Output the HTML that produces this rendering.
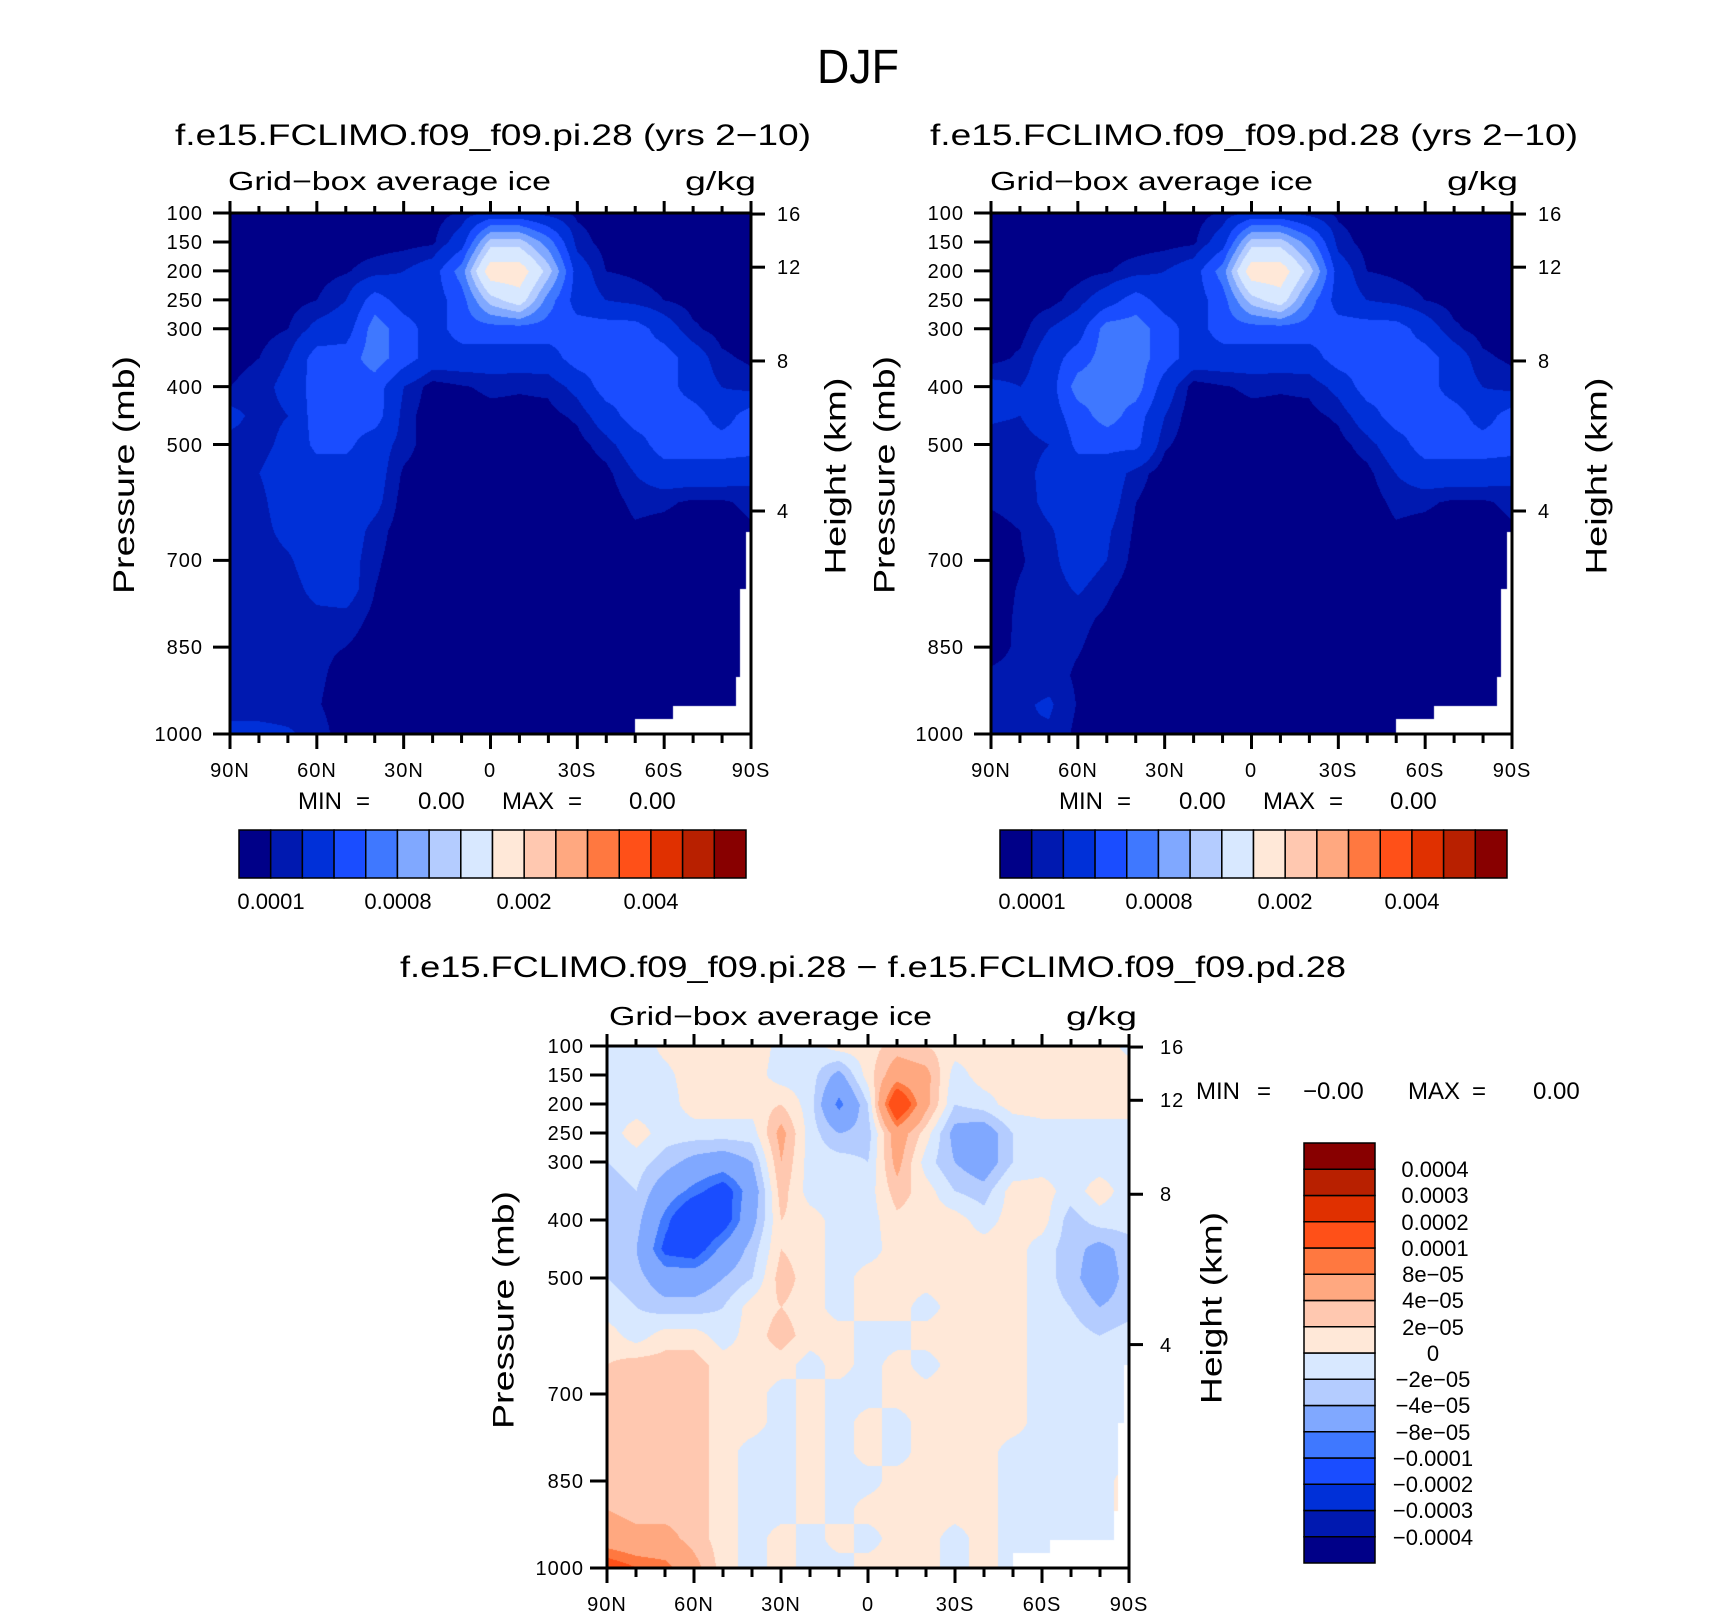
<!DOCTYPE html>
<html><head><meta charset="utf-8">
<style>
html,body{margin:0;padding:0;background:#fff;}
#wrap{position:relative;width:1710px;height:1616px;overflow:hidden;background:#fff;}
canvas{position:absolute;}
svg{position:absolute;left:0;top:0;}
text{font-family:"Liberation Sans",sans-serif;fill:#000;}
.tk{font-size:20px;letter-spacing:1px;}
.mm{font-size:24px;}
.cb{font-size:22px;}
</style></head>
<body>
<div id="wrap">
<canvas id="c1" width="521" height="521" style="left:230px;top:213px"></canvas>
<canvas id="c2" width="521" height="521" style="left:991px;top:213px"></canvas>
<canvas id="c3" width="522" height="522" style="left:607px;top:1046px"></canvas>
<svg id="ov" width="1710" height="1616" viewBox="0 0 1710 1616">
<g id="axes"></g>
<g id="bars"></g>

<text x="858" y="83" font-size="48" text-anchor="middle" textLength="82" lengthAdjust="spacingAndGlyphs">DJF</text>

<text x="175" y="145" font-size="30" textLength="636" lengthAdjust="spacingAndGlyphs">f.e15.FCLIMO.f09_f09.pi.28 (yrs 2−10)</text>
<text x="930" y="145" font-size="30" textLength="648" lengthAdjust="spacingAndGlyphs">f.e15.FCLIMO.f09_f09.pd.28 (yrs 2−10)</text>
<text x="400" y="977" font-size="30" textLength="946" lengthAdjust="spacingAndGlyphs">f.e15.FCLIMO.f09_f09.pi.28 − f.e15.FCLIMO.f09_f09.pd.28</text>

<text x="228" y="190" font-size="26" textLength="323" lengthAdjust="spacingAndGlyphs">Grid−box average ice</text>
<text x="685" y="190" font-size="26" textLength="71" lengthAdjust="spacingAndGlyphs">g/kg</text>
<text x="990" y="190" font-size="26" textLength="323" lengthAdjust="spacingAndGlyphs">Grid−box average ice</text>
<text x="1447" y="190" font-size="26" textLength="71" lengthAdjust="spacingAndGlyphs">g/kg</text>
<text x="609" y="1025" font-size="26" textLength="323" lengthAdjust="spacingAndGlyphs">Grid−box average ice</text>
<text x="1066" y="1025" font-size="26" textLength="71" lengthAdjust="spacingAndGlyphs">g/kg</text>

<text transform="translate(124.5,475) rotate(-90)" font-size="30" text-anchor="middle" dominant-baseline="central" textLength="238" lengthAdjust="spacingAndGlyphs">Pressure (mb)</text>
<text transform="translate(836,476) rotate(-90)" font-size="30" text-anchor="middle" dominant-baseline="central" textLength="197" lengthAdjust="spacingAndGlyphs">Height (km)</text>
<text transform="translate(885,475) rotate(-90)" font-size="30" text-anchor="middle" dominant-baseline="central" textLength="238" lengthAdjust="spacingAndGlyphs">Pressure (mb)</text>
<text transform="translate(1597,476) rotate(-90)" font-size="30" text-anchor="middle" dominant-baseline="central" textLength="197" lengthAdjust="spacingAndGlyphs">Height (km)</text>
<text transform="translate(504,1310) rotate(-90)" font-size="30" text-anchor="middle" dominant-baseline="central" textLength="238" lengthAdjust="spacingAndGlyphs">Pressure (mb)</text>
<text transform="translate(1212,1308) rotate(-90)" font-size="30" text-anchor="middle" dominant-baseline="central" textLength="192" lengthAdjust="spacingAndGlyphs">Height (km)</text>

<g class="tk" text-anchor="end">
<text x="203" y="220">100</text><text x="203" y="249">150</text><text x="203" y="278">200</text><text x="203" y="307">250</text><text x="203" y="336">300</text><text x="203" y="394">400</text><text x="203" y="452">500</text><text x="203" y="567">700</text><text x="203" y="654">850</text><text x="203" y="741">1000</text>
</g>
<g class="tk" text-anchor="end">
<text x="964" y="220">100</text><text x="964" y="249">150</text><text x="964" y="278">200</text><text x="964" y="307">250</text><text x="964" y="336">300</text><text x="964" y="394">400</text><text x="964" y="452">500</text><text x="964" y="567">700</text><text x="964" y="654">850</text><text x="964" y="741">1000</text>
</g>
<g class="tk" text-anchor="end">
<text x="584" y="1053">100</text><text x="584" y="1082">150</text><text x="584" y="1111">200</text><text x="584" y="1140">250</text><text x="584" y="1169">300</text><text x="584" y="1227">400</text><text x="584" y="1285">500</text><text x="584" y="1401">700</text><text x="584" y="1488">850</text><text x="584" y="1575">1000</text>
</g>
<g class="tk">
<text x="777" y="221">16</text><text x="777" y="274">12</text><text x="777" y="368">8</text><text x="777" y="518">4</text>
</g>
<g class="tk">
<text x="1538" y="221">16</text><text x="1538" y="274">12</text><text x="1538" y="368">8</text><text x="1538" y="518">4</text>
</g>
<g class="tk">
<text x="1160" y="1054">16</text><text x="1160" y="1107">12</text><text x="1160" y="1201">8</text><text x="1160" y="1352">4</text>
</g>
<g class="tk" text-anchor="middle">
<text x="230" y="777">90N</text><text x="317" y="777">60N</text><text x="404" y="777">30N</text><text x="490" y="777">0</text><text x="577" y="777">30S</text><text x="664" y="777">60S</text><text x="751" y="777">90S</text>
</g>
<g class="tk" text-anchor="middle">
<text x="991" y="777">90N</text><text x="1078" y="777">60N</text><text x="1165" y="777">30N</text><text x="1251" y="777">0</text><text x="1338" y="777">30S</text><text x="1425" y="777">60S</text><text x="1512" y="777">90S</text>
</g>
<g class="tk" text-anchor="middle">
<text x="607" y="1611">90N</text><text x="694" y="1611">60N</text><text x="781" y="1611">30N</text><text x="868" y="1611">0</text><text x="955" y="1611">30S</text><text x="1042" y="1611">60S</text><text x="1129" y="1611">90S</text>
</g>

<g class="mm">
<text x="298" y="809">MIN</text><text x="356" y="809">=</text><text x="418" y="809">0.00</text><text x="502" y="809">MAX</text><text x="568" y="809">=</text><text x="629" y="809">0.00</text>
</g>
<g class="mm">
<text x="1059" y="809">MIN</text><text x="1117" y="809">=</text><text x="1179" y="809">0.00</text><text x="1263" y="809">MAX</text><text x="1329" y="809">=</text><text x="1390" y="809">0.00</text>
</g>
<g class="mm">
<text x="1196" y="1099">MIN</text><text x="1257" y="1099">=</text><text x="1303" y="1099">−0.00</text><text x="1408" y="1099">MAX</text><text x="1472" y="1099">=</text><text x="1533" y="1099">0.00</text>
</g>

<g class="cb" text-anchor="middle">
<text x="271" y="909">0.0001</text><text x="398" y="909">0.0008</text><text x="524" y="909">0.002</text><text x="651" y="909">0.004</text>
</g>
<g class="cb" text-anchor="middle">
<text x="1032" y="909">0.0001</text><text x="1159" y="909">0.0008</text><text x="1285" y="909">0.002</text><text x="1412" y="909">0.004</text>
</g>
<g class="cb" text-anchor="middle">
<text x="1435" y="1177">0.0004</text>
<text x="1435" y="1203">0.0003</text>
<text x="1435" y="1230">0.0002</text>
<text x="1435" y="1256">0.0001</text>
<text x="1433" y="1282">8e−05</text>
<text x="1433" y="1308">4e−05</text>
<text x="1433" y="1335">2e−05</text>
<text x="1433" y="1361">0</text>
<text x="1433" y="1387">−2e−05</text>
<text x="1433" y="1413">−4e−05</text>
<text x="1433" y="1440">−8e−05</text>
<text x="1433" y="1466">−0.0001</text>
<text x="1433" y="1492">−0.0002</text>
<text x="1433" y="1518">−0.0003</text>
<text x="1433" y="1545">−0.0004</text>
</g>
</svg>
</div>
<script>
const palette = ["#000088","#0019b0","#0030d8","#1a4dff","#3f78ff","#80a8ff","#b4ccff","#d8e8ff","#ffe8d8","#ffc8b0","#ffa880","#ff7840","#ff5018","#e03000","#b82000","#880000"];
// absolute-field levels (units 1e-4 kg/kg)
const absLevels = [1,2,4,6,8,10,12,15,20,25,30,35,40,45,50];
// difference-field levels (units 1e-5 kg/kg)
const diffLevels = [-40,-30,-20,-10,-8,-4,-2,0,2,4,8,10,20,30,40];
const lats = [90,80,70,60,50,40,30,20,10,0,-10,-20,-30,-40,-50,-60,-70,-80,-90];
const pressures = [100,150,200,250,300,350,400,450,500,550,600,650,700,750,800,850,900,950,1000];
const missingLat = [-50, -63, -85, -86.5, -88.5];
const missingP = [975, 952, 902, 750, 651];

const iceVals_pi = [
[0.5,0.5,0.5,0.5,0.5,0.5,0.5,0.5,1.2,2.5,2.5,1.5,0.8,0.5,0.5,0.5,0.5,0.5,0.5],
[0.5,0.5,0.5,0.5,0.5,0.5,0.6,0.8,3,11,11,7,1.5,0.6,0.5,0.5,0.5,0.5,0.5],
[0.5,0.5,0.5,0.6,0.9,1.5,2,3,7,17,17,11,3,1,0.8,0.6,0.5,0.5,0.5],
[0.5,0.5,0.6,1,2,5,3,3,5,11,13.5,7,3,2,1.5,1,0.6,0.5,0.5],
[0.5,0.6,1,2.5,3,7,5,3,5,5,5,5,5,5,5,3,1.2,0.6,0.5],
[0.6,1,2,5,5,7,5,3,3,3,3,3,5,5,5,5,3,1.2,0.8],
[1,1.5,2.5,5,5,5,2,0.5,0.9,1.2,1.1,1.2,2.5,5,5,5,3,2,1.5],
[2.5,1.5,2,5,5,5,1.5,0.3,0.5,0.7,0.7,0.7,1.2,3,5,5,5,3,5],
[1.5,1.5,2.5,4.5,4.5,2.8,1.5,0.3,0.3,0.3,0.3,0.3,0.6,1.5,3,5,5,5,5],
[1.5,2,3,3,3,2.8,0.8,0.3,0.3,0.3,0.3,0.3,0.3,0.7,2,3,3,3,2.5],
[1.5,1.6,3,3,3,2.5,0.5,0.3,0.3,0.3,0.3,0.3,0.3,0.4,1.3,1.2,0.8,0.8,1.3],
[1.5,1.5,2.5,3,3,1.5,0.4,0.3,0.3,0.3,0.3,0.3,0.3,0.3,0.8,0.6,0.4,0.4,0.8],
[1.3,1.3,1.8,3,2.8,1.2,0.4,0.3,0.3,0.3,0.3,0.3,0.3,0.3,0.4,1,0.3,0.3,0.3],
[1.2,1.2,1.4,2.5,2.8,1,0.3,0.3,0.3,0.3,0.3,0.3,0.3,0.3,0.3,1,0.3,0.3,0.3],
[1.2,1.2,1.3,1.6,1.6,0.7,0.3,0.3,0.3,0.3,0.3,0.3,0.3,0.3,0.3,0.3,0.3,0.3,0.3],
[1.3,1.2,1.2,1.2,1,0.4,0.3,0.3,0.3,0.3,0.3,0.3,0.3,0.3,0.3,0.3,0.3,0.3,0.3],
[1.3,1.3,1.2,1.2,0.6,0.3,0.3,0.3,0.3,0.3,0.3,0.3,0.3,0.3,0.3,0.3,0.3,0.3,0.3],
[1.3,1.3,1.3,1.1,0.4,0.3,0.3,0.3,0.3,0.3,0.3,0.3,0.3,0.3,0.3,0.3,0.3,0.3,0.3],
[2.5,2.5,2.2,1.5,0.4,0.3,0.3,0.3,0.3,0.3,0.3,0.3,0.3,0.3,0.3,0.3,0.3,0.3,0.3]
];
const iceVals_pd = [
[0.5,0.5,0.5,0.5,0.5,0.5,0.5,0.5,1.2,2.5,2.5,1.5,0.8,0.5,0.5,0.5,0.5,0.5,0.5],
[0.5,0.5,0.5,0.5,0.5,0.5,0.6,0.8,3,11,11,7,1.5,0.6,0.5,0.5,0.5,0.5,0.5],
[0.5,0.5,0.5,0.6,0.9,1.5,2,3,7,17,17,11,3,1,0.8,0.6,0.5,0.5,0.5],
[0.5,0.5,0.6,1.5,3,5,3,3,5,11,13.5,7,3,2,1.5,1,0.6,0.5,0.5],
[0.5,0.6,2,3,7,7,5,3,5,5,5,5,5,5,5,3,1.2,0.6,0.5],
[0.6,1.2,3,5,7,7,5,3,3,3,3,3,5,5,5,5,3,1.2,0.8],
[2.5,2,3,7,7,7,3,0.5,0.9,1.2,1.1,1.2,2.5,5,5,5,3,2,1.5],
[2.2,2,3,5,7,5,2,0.3,0.5,0.7,0.7,0.7,1.2,3,5,5,5,3,5],
[1.5,1.5,2,4.5,4.5,4.5,1.2,0.3,0.3,0.3,0.3,0.3,0.6,1.5,3,5,5,5,5],
[1.2,1.5,2.5,3,3,1.5,0.4,0.3,0.3,0.3,0.3,0.3,0.3,0.7,2,3,3,3,2.5],
[1.1,1.3,2.5,3,2.8,1,0.3,0.3,0.3,0.3,0.3,0.3,0.3,0.4,1.3,1.2,0.8,0.8,1.3],
[0.7,1,1.8,3,2.2,0.8,0.3,0.3,0.3,0.3,0.3,0.3,0.3,0.3,0.8,0.6,0.4,0.4,0.8],
[0.5,0.9,1.5,3,2,0.6,0.3,0.3,0.3,0.3,0.3,0.3,0.3,0.3,0.4,1,0.3,0.3,0.3],
[0.5,1.1,1.3,2.2,1.2,0.4,0.3,0.3,0.3,0.3,0.3,0.3,0.3,0.3,0.3,1,0.3,0.3,0.3],
[0.5,1.2,1.5,1.3,0.8,0.3,0.3,0.3,0.3,0.3,0.3,0.3,0.3,0.3,0.3,0.3,0.3,0.3,0.3],
[0.6,1.2,1.5,1.1,0.5,0.3,0.3,0.3,0.3,0.3,0.3,0.3,0.3,0.3,0.3,0.3,0.3,0.3,0.3],
[1.2,1.3,1.5,0.8,0.3,0.3,0.3,0.3,0.3,0.3,0.3,0.3,0.3,0.3,0.3,0.3,0.3,0.3,0.3],
[1.5,1.8,2.2,0.9,0.3,0.3,0.3,0.3,0.3,0.3,0.3,0.3,0.3,0.3,0.3,0.3,0.3,0.3,0.3],
[1.5,2,1.8,0.7,0.3,0.3,0.3,0.3,0.3,0.3,0.3,0.3,0.3,0.3,0.3,0.3,0.3,0.3,0.3]
];
const iceDiff = [
[-1,-1,0.5,1,1,1,-0.5,-1,1,1,3,2,1,1,1,1,1,1,-0.5],
[-1,-1,-0.5,1,1,1,-1,-1,-5,1,6,5,-1,1,1,1,1,1,1],
[-1,-1,-1,1,1,1,2,-1,-9,-2,15,5,-2,-1,1,1,1,1,1],
[-1,1,-1,-1,-1,-1,5,-1,-4,-3,6,1,-5,-6,-2,-1,-1,-1,-1],
[-2,-1,-3,-5,-6,-4,4,-1,-1,-2,5,-1,-4,-6,-2,-1,-1,-1,-1],
[-3,-2,-6,-9,-12,-6,3,-1,-1,-1,3,1,-2,-3,1,1,-1,1,-1],
[-3,-3,-9,-15,-12,-5,2,1,-1,-1,1.5,1,1,-1,1,1,-3,-1,-1],
[-2,-4,-11,-12,-7,-3,2,1,-1,-1,1,1,1,1,1,-1,-3,-5,-3],
[-2,-3,-6,-6,-4,-2,3,1,-1,1,1,1,1,1,1,-1,-3,-6,-3],
[-1,-2,-3,-3,-2,1,2,1,-1,1,1,-1,1,1,1,-1,-2,-4,-3],
[1,-1,1,1,-1,1,3,1,1,-1,-1,1,1,1,1,-1,-1,-2,-1],
[2,3,3,3,1,1,1,-1,1,-1,1,-1,1,1,1,-1,-1,-1,-1],
[3,3,3,3,1,1,-1,1,-1,-1,1,1,1,1,1,-1,-1,-1,-1],
[3,3,3,3,1,1,-1,1,-1,1,-1,1,1,1,1,-1,-1,-1,-1],
[3,3,3,3,1,-1,-1,1,-1,1,-1,1,1,1,-1,-1,-1,-1,-1],
[3,3,3,3,1,-1,-1,1,-1,-1,1,1,1,1,-1,-1,-1,-1,1],
[4,3,3,3,1,-1,-1,1,-1,1,1,1,1,1,-1,-1,-1,-1,1],
[6,5,5,3,1,-1,1,-1,1,-1,1,1,-1,1,-1,-1,-1,-1,1],
[12,10,9,5,1,-1,1,-1,-1,1,1,1,-1,1,-1,-1,-1,1,1]
];

function hexRGB(h){return [parseInt(h.substr(1,2),16),parseInt(h.substr(3,2),16),parseInt(h.substr(5,2),16)];}
const rgbPal = palette.map(hexRGB);
const nLat = lats.length, nP = pressures.length;
const pMin = pressures[0], pMax = pressures[nP-1];
const latN = lats[0], latS = lats[nLat-1];

function rowIndex(p){
  for(let i=0;i<nP-1;i++){ if(p<=pressures[i+1]) return i+(p-pressures[i])/(pressures[i+1]-pressures[i]); }
  return nP-1;
}
function colIndex(lat){
  for(let j=0;j<nLat-1;j++){ if(lat>=lats[j+1]) return j+(lats[j]-lat)/(lats[j]-lats[j+1]); }
  return nLat-1;
}
function isMissing(lat,p){
  for(let k=0;k<missingLat.length;k++){ if(lat<missingLat[k] && p>missingP[k]) return true; }
  return false;
}
function renderField(id, grid, levels){
  const cv=document.getElementById(id), ctx=cv.getContext('2d');
  const W=cv.width,H=cv.height, img=ctx.createImageData(W,H), d=img.data;
  for(let py=0;py<H;py++){
    const p=pMin+(pMax-pMin)*py/(H-1);
    const r=rowIndex(p), r0=Math.min(Math.floor(r),nP-2), fr=r-r0;
    for(let px=0;px<W;px++){
      const lat=latN+(latS-latN)*px/(W-1);
      const o=(py*W+px)*4;
      if(isMissing(lat,p)){d[o]=255;d[o+1]=255;d[o+2]=255;d[o+3]=255;continue;}
      const c=colIndex(lat), c0=Math.min(Math.floor(c),nLat-2), fc=c-c0;
      const v=(grid[r0][c0]*(1-fc)+grid[r0][c0+1]*fc)*(1-fr)+(grid[r0+1][c0]*(1-fc)+grid[r0+1][c0+1]*fc)*fr;
      let k=0; while(k<levels.length && v>=levels[k]) k++;
      const col=rgbPal[k];
      d[o]=col[0];d[o+1]=col[1];d[o+2]=col[2];d[o+3]=255;
    }
  }
  ctx.putImageData(img,0,0);
}
renderField('c1', iceVals_pi, absLevels);
renderField('c2', iceVals_pd, absLevels);
renderField('c3', iceDiff, diffLevels);

const NS='http://www.w3.org/2000/svg';
const axesG=document.getElementById('axes');
const barsG=document.getElementById('bars');
const pTicks=[100,150,200,250,300,400,500,700,850,1000];
const hTickFrac=[0.002,0.104,0.284,0.572];
function line(g,x1,y1,x2,y2,w){
  const l=document.createElementNS(NS,'line');
  l.setAttribute('x1',x1);l.setAttribute('y1',y1);l.setAttribute('x2',x2);l.setAttribute('y2',y2);
  l.setAttribute('stroke','#000');l.setAttribute('stroke-width',w);
  
  
  g.appendChild(l);
}
function frame(x0,y0,w,h,name){
  const g=document.createElementNS(NS,'g');
  
  
  axesG.appendChild(g);
  for(let k=0;k<=18;k++){
    const x=x0+w*k/18, major=(k%3===0);
    line(g,x,y0+h,x,y0+h+(major?15:9),3);
    line(g,x,y0,x,y0-(major?12:7),3);
  }
  pTicks.forEach(p=>{const y=y0+h*(p-pMin)/(pMax-pMin); line(g,x0-17,y,x0,y,3);});
  hTickFrac.forEach(f=>{const y=y0+h*f; line(g,x0+w,y,x0+w+14,y,3);});
  const r=document.createElementNS(NS,'rect');
  r.setAttribute('x',x0);r.setAttribute('y',y0);r.setAttribute('width',w);r.setAttribute('height',h);
  r.setAttribute('fill','none');r.setAttribute('stroke','#000');r.setAttribute('stroke-width',3);
  
  
  g.appendChild(r);
}
frame(230,213,521,521,'left-panel-axes');
frame(991,213,521,521,'right-panel-axes');
frame(607,1046,522,522,'diff-panel-axes');

function hbar(x0,y0,w,h,name){
  const g=document.createElementNS(NS,'g');
  
  
  barsG.appendChild(g);
  const bw=w/palette.length;
  palette.forEach((c,i)=>{
    const r=document.createElementNS(NS,'rect');
    r.setAttribute('x',x0+i*bw);r.setAttribute('y',y0);r.setAttribute('width',bw);r.setAttribute('height',h);
    r.setAttribute('fill',c);r.setAttribute('stroke','#000');r.setAttribute('stroke-width',1.5);
    
    
    g.appendChild(r);
  });
}
function vbar(x0,y0,w,h,name){
  const g=document.createElementNS(NS,'g');
  
  
  barsG.appendChild(g);
  const bh=h/palette.length;
  palette.forEach((c,i)=>{
    const r=document.createElementNS(NS,'rect');
    r.setAttribute('x',x0);r.setAttribute('y',y0+h-(i+1)*bh);r.setAttribute('width',w);r.setAttribute('height',bh);
    r.setAttribute('fill',c);r.setAttribute('stroke','#000');r.setAttribute('stroke-width',1.5);
    
    
    g.appendChild(r);
  });
}
hbar(239,830,507,48,'left-colorbar');
hbar(1000,830,507,48,'right-colorbar');
vbar(1304,1143,71,420,'diff-colorbar');
</script>
</body></html>
